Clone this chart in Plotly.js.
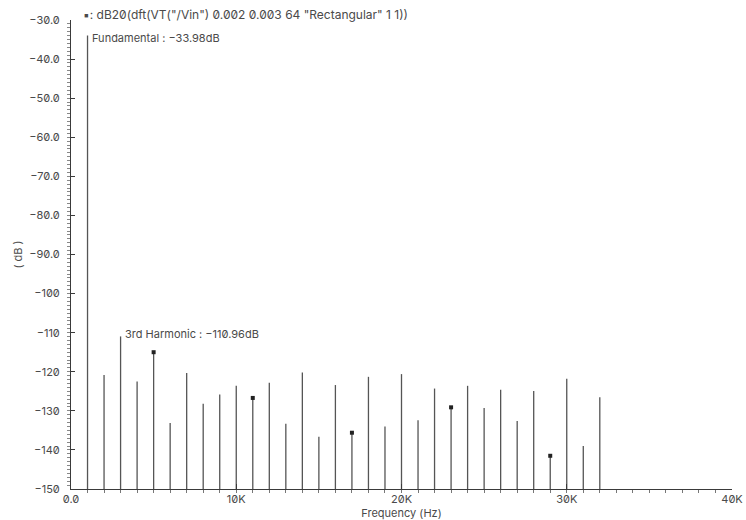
<!DOCTYPE html>
<html>
<head>
<meta charset="utf-8">
<script src="https://cdn.plot.ly/plotly-3.0.1.min.js"></script>
<style>
  html, body { margin: 0; padding: 0; background: #fff; }
  #plot { width: 746px; height: 520px; }
  /* slashed zeros, like the simulator's waveform font */
  #plot text { font-feature-settings: "zero" 1; }
</style>
</head>
<body>
<div id="plot"></div>
<script>
// DFT of VT("/Vin"), 0.002..0.003 s, 64 points, rectangular window
const freqHz = [1000, 2000, 3000, 4000, 5000, 6000, 7000, 8000, 9000, 10000,
  11000, 12000, 13000, 14000, 15000, 16000, 17000, 18000, 19000, 20000,
  21000, 22000, 23000, 24000, 25000, 26000, 27000, 28000, 29000, 30000,
  31000, 32000];
const magDb = [-33.98, -120.8, -110.96, -122.5, -115.0, -133.1, -120.3, -128.2, -125.8, -123.6,
  -126.7, -122.8, -133.3, -120.2, -136.6, -123.4, -135.6, -121.3, -134.0, -120.6,
  -132.4, -124.3, -129.1, -123.6, -129.3, -124.6, -132.6, -124.9, -141.5, -121.8,
  -139.0, -126.5];
// bins that carry the trace's point marker
const markedHz = [5000, 11000, 17000, 23000, 29000];

const yTickVals = [-30, -40, -50, -60, -70, -80, -90, -100, -110, -120, -130, -140, -150];
const yTickText = ["\u221230.0", "\u221240.0", "\u221250.0", "\u221260.0", "\u221270.0", "\u221280.0",
  "\u221290.0", "\u2212100", "\u2212110", "\u2212120", "\u2212130", "\u2212140", "\u2212150"];
const xTickVals = [0, 10000, 20000, 30000, 40000];
const xTickText = ["0.0", "10K", "20K", "30K", "40K"];

const floorDb = -150;
const ink = "#3a3a3a";
const textInk = "#4a4a4a";
const fontFam = "Inter, 'DejaVu Sans', sans-serif";

// stems from the floor up to each bin's magnitude
const stemX = [], stemY = [];
freqHz.forEach((f, i) => {
  stemX.push(f, f, null);
  stemY.push(floorDb, magDb[i], null);
});

const stems = {
  type: "scatter", mode: "lines", x: stemX, y: stemY,
  line: { color: "#555", width: 1.3 }, hoverinfo: "skip", showlegend: false
};

const marks = {
  type: "scatter", mode: "markers",
  x: markedHz,
  y: markedHz.map(f => magDb[freqHz.indexOf(f)]),
  marker: { symbol: "square", size: 4, color: "#222" },
  showlegend: false
};

const fundIdx = 0, thirdIdx = 2;

const layout = {
  width: 746, height: 520,
  margin: { l: 71, r: 14, t: 20, b: 31 },
  paper_bgcolor: "#fff", plot_bgcolor: "#fff",
  font: { family: fontFam, size: 11, color: textInk },
  title: {
    text: "\u25aa: dB20(dft(VT(\"/Vin\") 0.002 0.003 64 \"Rectangular\" 1 1))",
    xref: "container", yref: "container",
    x: 83 / 746, xanchor: "left", y: 1 - 15 / 520, yanchor: "middle",
    font: { family: fontFam, size: 12, color: textInk }
  },
  xaxis: {
    range: [0, 40000], showgrid: false, zeroline: false,
    showline: true, linecolor: ink, linewidth: 1,
    tickmode: "array", tickvals: xTickVals, ticktext: xTickText,
    ticks: "inside", ticklen: 5, tickcolor: ink,
    minor: { dtick: 1000, ticks: "outside", ticklen: 3, tickcolor: "#777", showgrid: false },
    title: { text: "Frequency (Hz)", standoff: 2, font: { size: 11, color: textInk } },
    tickfont: { size: 11, color: textInk }
  },
  yaxis: {
    range: [-150, -30], showgrid: false, zeroline: false,
    showline: true, linecolor: ink, linewidth: 1,
    tickmode: "array", tickvals: yTickVals, ticktext: yTickText,
    ticks: "inside", ticklen: 4, tickcolor: ink,
    ticklabelstandoff: 8,
    minor: { dtick: 1, ticks: "outside", ticklen: 3, tickcolor: "#888", showgrid: false },
    title: { text: "( dB )", standoff: 4, font: { size: 11, color: textInk } },
    tickfont: { size: 11, color: textInk }
  },
  annotations: [
    {
      x: freqHz[fundIdx], y: magDb[fundIdx], xref: "x", yref: "y",
      text: "Fundamental : \u2212" + Math.abs(magDb[fundIdx]).toFixed(2) + "dB",
      showarrow: false, xanchor: "left", yanchor: "middle", xshift: 2, yshift: -2,
      font: { size: 11, color: textInk }
    },
    {
      x: freqHz[thirdIdx], y: magDb[thirdIdx], xref: "x", yref: "y",
      text: "3rd Harmonic : \u2212" + Math.abs(magDb[thirdIdx]).toFixed(2) + "dB",
      showarrow: false, xanchor: "left", yanchor: "middle", xshift: 2, yshift: 2,
      font: { size: 11, color: textInk }
    }
  ]
};

Plotly.newPlot("plot", [stems, marks], layout, { displayModeBar: false, staticPlot: true });
</script>
</body>
</html>
